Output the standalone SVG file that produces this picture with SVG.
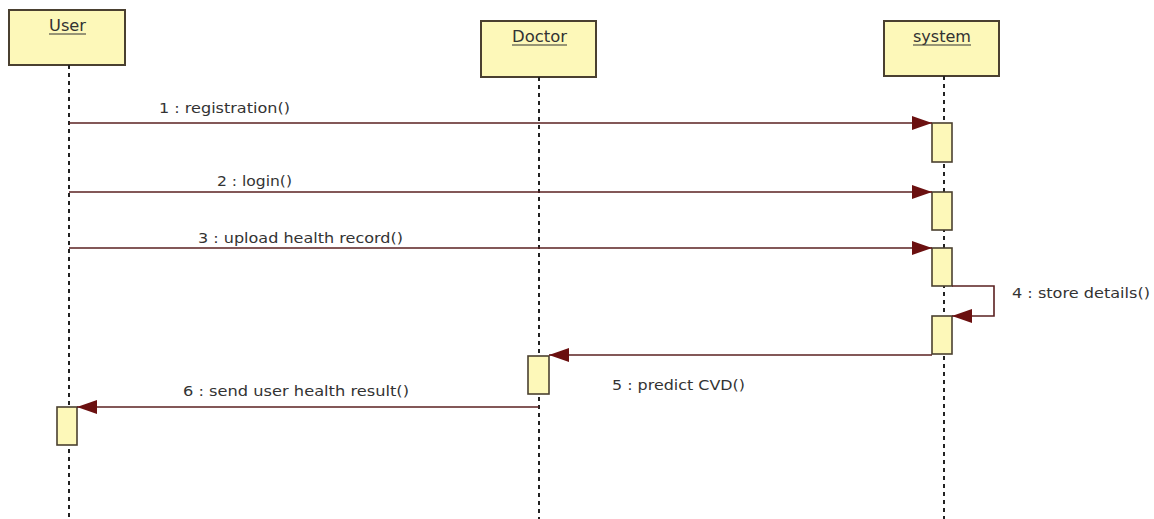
<svg xmlns="http://www.w3.org/2000/svg" width="1154" height="519" viewBox="0 0 1154 519">
<defs>
<style>
.head{fill:#fdf8b9;stroke:#4a4030;stroke-width:2}
.act{fill:#fdf8b9;stroke:#4a4030;stroke-width:1.6}
.life{stroke:#222;stroke-width:2;stroke-dasharray:4 4;fill:none}
.msg{stroke:#5a2020;stroke-width:1.6;fill:none}
.lbl{font-family:"DejaVu Sans","Liberation Sans",sans-serif;font-size:14.5px;fill:#333}
.name{font-family:"DejaVu Sans","Liberation Sans",sans-serif;font-size:15px;fill:#333}
.ul{stroke:#333;stroke-width:1.2}
</style>
<marker id="ah" markerUnits="userSpaceOnUse" markerWidth="22" markerHeight="14" refX="20" refY="7" orient="auto">
<path d="M0,0 L20,7 L0,14 Z" fill="#6b1010"/>
</marker>
</defs>
<rect width="1154" height="519" fill="#fff"/>

<g id="User">
<rect class="head" x="9" y="10" width="116" height="55"/>
<text class="name" x="49" y="31" textLength="37" lengthAdjust="spacingAndGlyphs">User</text>
<line class="ul" x1="49" y1="34" x2="86" y2="34"/>
<line class="life" x1="69" y1="65" x2="69" y2="519"/>
<rect class="act" x="57" y="407" width="20" height="38"/>
</g>

<g id="Doctor">
<rect class="head" x="481" y="21" width="115" height="56"/>
<text class="name" x="512" y="42" textLength="55" lengthAdjust="spacingAndGlyphs">Doctor</text>
<line class="ul" x1="512" y1="45" x2="567" y2="45"/>
<line class="life" x1="539" y1="77" x2="539" y2="519"/>
<rect class="act" x="528" y="356" width="21" height="38"/>
</g>

<g id="system">
<rect class="head" x="884" y="21" width="115" height="55"/>
<text class="name" x="913" y="42" textLength="58" lengthAdjust="spacingAndGlyphs">system</text>
<line class="ul" x1="913" y1="45" x2="971" y2="45"/>
<line class="life" x1="944" y1="76" x2="944" y2="519"/>
<rect class="act" x="932" y="123" width="20" height="39"/>
<rect class="act" x="932" y="192" width="20" height="38"/>
<rect class="act" x="932" y="248" width="20" height="38"/>
<rect class="act" x="932" y="316" width="20" height="38"/>
</g>

<g id="connectors">
<line class="msg" x1="69" y1="123" x2="932" y2="123" marker-end="url(#ah)"/>
<text class="lbl" x="159" y="113" textLength="131" lengthAdjust="spacingAndGlyphs">1 : registration()</text>
<line class="msg" x1="69" y1="192" x2="932" y2="192" marker-end="url(#ah)"/>
<text class="lbl" x="217" y="186" textLength="75" lengthAdjust="spacingAndGlyphs">2 : login()</text>
<line class="msg" x1="69" y1="248" x2="932" y2="248" marker-end="url(#ah)"/>
<text class="lbl" x="198" y="243" textLength="205" lengthAdjust="spacingAndGlyphs">3 : upload health record()</text>
<path class="msg" d="M952,286 H994 V316 H952" marker-end="url(#ah)"/>
<text class="lbl" x="1012" y="298" textLength="138" lengthAdjust="spacingAndGlyphs">4 : store details()</text>
<line class="msg" x1="932" y1="355" x2="549" y2="355" marker-end="url(#ah)"/>
<text class="lbl" x="612" y="390" textLength="133" lengthAdjust="spacingAndGlyphs">5 : predict CVD()</text>
<line class="msg" x1="539" y1="407" x2="77" y2="407" marker-end="url(#ah)"/>
<text class="lbl" x="183" y="396" textLength="226" lengthAdjust="spacingAndGlyphs">6 : send user health result()</text>
</g>
</svg>
